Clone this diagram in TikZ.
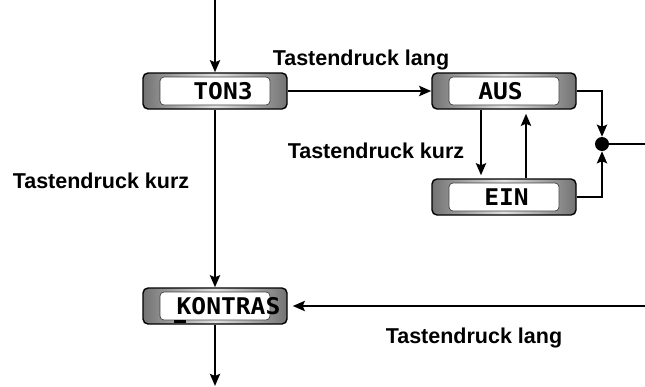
\documentclass[tikz,border=0pt]{standalone}
\usepackage{fontspec}
\setmainfont{Liberation Sans}
\newfontfamily\lcdfont[FakeStretch=1.07]{DejaVu Sans Mono Bold}
\usetikzlibrary{arrows.meta}

\begin{document}
\begin{tikzpicture}
  [x=1pt,y=-1pt,
   display/.style={rectangle,rounded corners=5pt,draw=black,line width=1.4pt,
     left color=black!55,right color=black!55,middle color=black!12,
     minimum width=144pt,minimum height=36pt,inner sep=0pt,
     font=\lcdfont\fontsize{23}{23}\selectfont,
     path picture={\draw[fill=white,draw=black!75,line width=.7pt,rounded corners=4pt]
       ([xshift=17pt,yshift=-4pt]path picture bounding box.north west) rectangle
       ([xshift=-17pt,yshift=4pt]path picture bounding box.south east);}},
   tastlabel/.style={font=\bfseries\fontsize{21.5}{24}\selectfont,anchor=base},
   flow/.style={line width=2.6pt,-{Stealth[length=12pt,width=10pt,inset=2pt]}},
   wire/.style={line width=2.6pt}]
  \useasboundingbox (0,0) rectangle (645,386);

  % displays
  \node[display] (ton3)    at (215,91)  {\hspace*{16pt}TON3};
  \node[display] (aus)     at (504,91)  {AUS\hspace*{7pt}};
  \node[display] (ein)     at (504,197) {\hspace*{5pt}EIN};
  \node[display] (kontras) at (215,306) {\hspace*{27pt}KONTRAS};
  \node[circle,fill=black,inner sep=0pt,minimum size=14pt] (dot) at (602,144) {};

  \coordinate (in)   at (215,0);
  \coordinate (out)  at (215,386);
  \coordinate (exit) at (645,144);
  \coordinate (back) at (645,306);

  % labels
  \node[tastlabel] (lang1) at (361,65)  {Tastendruck lang};
  \node[tastlabel] (kurz1) at (376,158) {Tastendruck kurz};
  \node[tastlabel] (kurz2) at (101,188) {Tastendruck kurz};
  \node[tastlabel] (lang2) at (474,343) {Tastendruck lang};

  % cursor
  \fill ([xshift=32pt,yshift=2pt]kontras.south west) rectangle ++(12,-3);

  \draw[flow] (in) -- (ton3);
  \draw[flow] (ton3) -- (aus);
  \draw[flow] (ton3) -- (kontras);
  \draw[flow] (kontras) -- (out);
  \draw[flow] (aus.east) -| (dot.north);
  \draw[flow] (ein.east) -| (dot.south);
  \draw[wire] (dot) -- (exit);
  \draw[flow,shorten >=3pt] ([xshift=-23pt]aus.south) -- ([xshift=-23pt]ein.north);
  \draw[flow,shorten >=4pt] ([xshift=22pt]ein.north) -- ([xshift=22pt]aus.south);
  \draw[flow,shorten >=5pt] (back) -- (kontras);

\end{tikzpicture}
\end{document}
